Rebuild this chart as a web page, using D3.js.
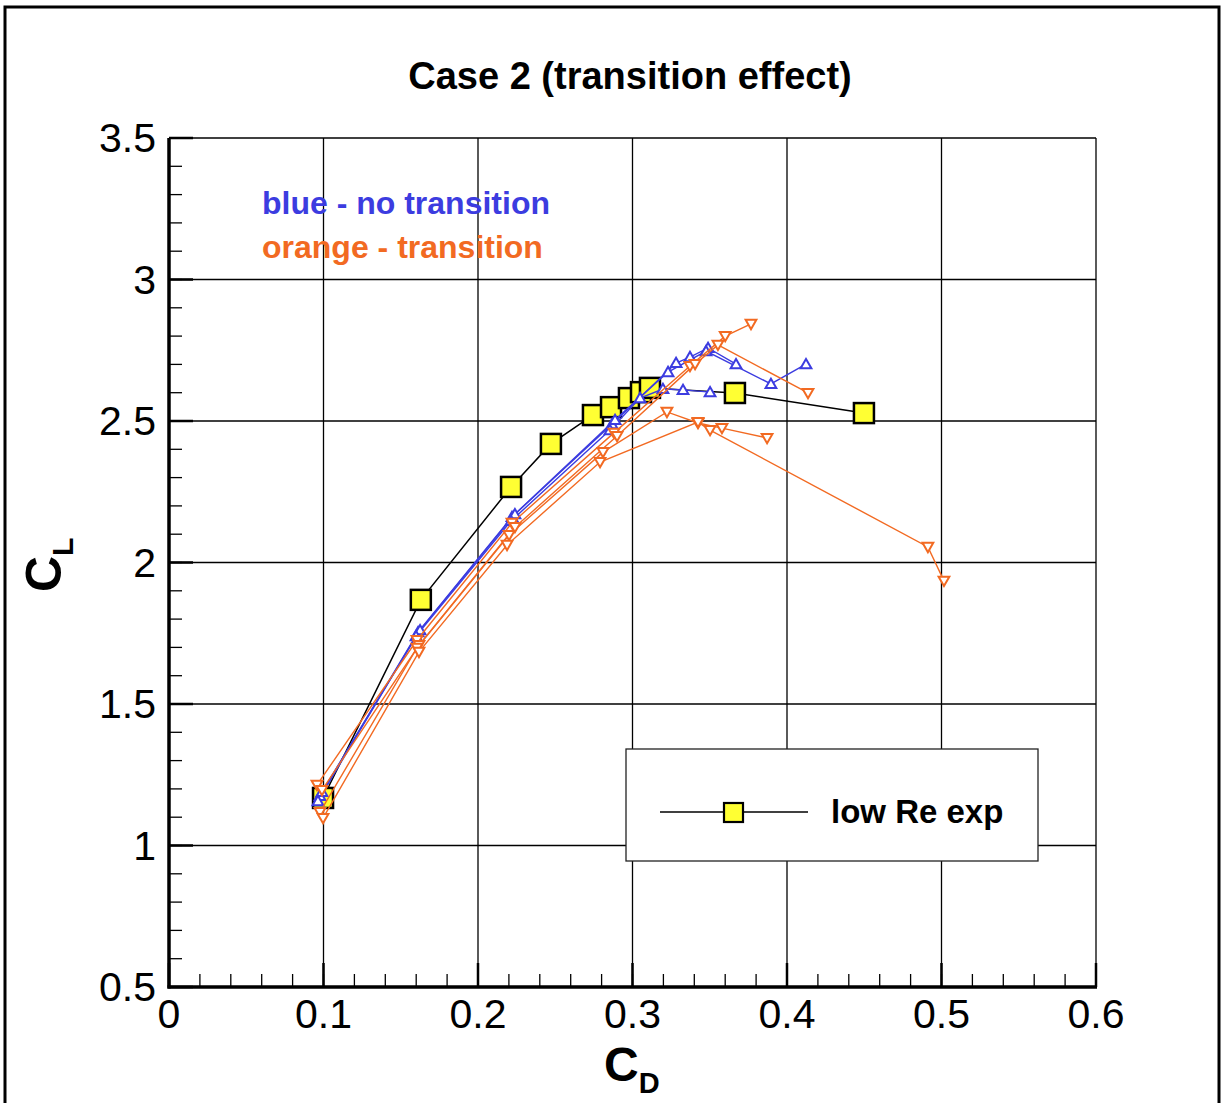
<!DOCTYPE html>
<html><head><meta charset="utf-8">
<script src="https://cdn.jsdelivr.net/npm/d3@7"></script>
<style>body{margin:0;background:#fff}svg{display:block}text{font-family:"Liberation Sans",Arial,Helvetica,sans-serif}</style>
</head><body>
<svg id="c" width="1226" height="1103"></svg>
<script>
// ---- data ----
const xTicks = [0, 0.1, 0.2, 0.3, 0.4, 0.5, 0.6];
const yTicks = [0.5, 1, 1.5, 2, 2.5, 3, 3.5];
const xTickLabels = ["0", "0.1", "0.2", "0.3", "0.4", "0.5", "0.6"];
const yTickLabels = ["0.5", "1", "1.5", "2", "2.5", "3", "3.5"];

// experiment (low Re exp): [CD, CL]
const expCD = [0.0997, 0.163, 0.2214, 0.2472, 0.2744, 0.2861, 0.2977, 0.3055, 0.3113, 0.3663, 0.4498];
const expCL = [1.168, 1.868, 2.267, 2.419, 2.521, 2.549, 2.581, 2.602, 2.617, 2.599, 2.528];

// blue - no transition
const blue1CD = [0.0977, 0.1612, 0.2220, 0.2867, 0.3282, 0.3372, 0.3489, 0.3670];
const blue1CL = [1.175, 1.754, 2.161, 2.489, 2.705, 2.726, 2.758, 2.701];
const blue2CD = [0.0990, 0.1625, 0.2239, 0.2887, 0.3230, 0.3476, 0.3896, 0.4123];
const blue2CL = [1.189, 1.761, 2.171, 2.504, 2.673, 2.747, 2.631, 2.701];
const blue3CD = [0.0964, 0.1599, 0.2214, 0.2854, 0.3049, 0.3197, 0.3327, 0.3502];
const blue3CL = [1.157, 1.740, 2.147, 2.468, 2.581, 2.613, 2.610, 2.602];

// orange - transition
const orange1CD = [0.0958, 0.1605, 0.2220, 0.2880, 0.3372, 0.3600, 0.3767];
const orange1CL = [1.214, 1.726, 2.140, 2.458, 2.694, 2.800, 2.843];
const orange2CD = [0.0990, 0.1618, 0.2239, 0.2900, 0.3405, 0.3553, 0.4136];
const orange2CL = [1.196, 1.708, 2.125, 2.447, 2.701, 2.769, 2.599];
const orange3CD = [0.0977, 0.1605, 0.2201, 0.2809, 0.3223, 0.3424, 0.3579, 0.3871];
const orange3CL = [1.118, 1.698, 2.097, 2.390, 2.532, 2.493, 2.475, 2.440];
const orange4CD = [0.0997, 0.1618, 0.2188, 0.2790, 0.3424, 0.3502, 0.4912, 0.5016];
const orange4CL = [1.097, 1.684, 2.062, 2.355, 2.496, 2.468, 2.055, 1.935];

const BLUE = "#3c3ce0", ORANGE = "#f26a22";

const zip = (a, b) => a.map((v, i) => [v, b[i]]);
const blueSeries = [zip(blue1CD, blue1CL), zip(blue2CD, blue2CL), zip(blue3CD, blue3CL)];
const orangeSeries = [zip(orange1CD, orange1CL), zip(orange2CD, orange2CL), zip(orange3CD, orange3CL), zip(orange4CD, orange4CL)];
const expSeries = zip(expCD, expCL);

// ---- drawing ----
const svg = d3.select("#c");
const L = 169, R = 1096, T = 138, B = 987;
const x = d3.scaleLinear().domain([0, 0.6]).range([L, R]);
const y = d3.scaleLinear().domain([0.5, 3.5]).range([B, T]);

svg.append("rect").attr("x", 5).attr("y", 7).attr("width", 1214).attr("height", 1110)
  .attr("fill", "#fff").attr("stroke", "#000").attr("stroke-width", 3);

// grid
const g = svg.append("g");
g.selectAll(".gx").data(xTicks).join("line")
  .attr("x1", d => x(d)).attr("x2", d => x(d)).attr("y1", T).attr("y2", B)
  .attr("stroke", "#000").attr("stroke-width", 1.3);
g.selectAll(".gy").data(yTicks).join("line")
  .attr("y1", d => y(d)).attr("y2", d => y(d)).attr("x1", L).attr("x2", R)
  .attr("stroke", "#000").attr("stroke-width", 1.3);

// minor ticks
const xMinor = d3.range(0, 0.6001, 0.02);
const yMinor = d3.range(0.5, 3.5001, 0.1);
g.selectAll(".mx").data(xMinor).join("line")
  .attr("x1", d => x(d)).attr("x2", d => x(d)).attr("y1", B).attr("y2", B - 13)
  .attr("stroke", "#000").attr("stroke-width", 1.3);
g.selectAll(".my").data(yMinor).join("line")
  .attr("y1", d => y(d)).attr("y2", d => y(d)).attr("x1", L).attr("x2", L + 13)
  .attr("stroke", "#000").attr("stroke-width", 1.3);
// major ticks (thicker)
g.selectAll(".Mx").data(xTicks).join("line")
  .attr("x1", d => x(d)).attr("x2", d => x(d)).attr("y1", B).attr("y2", B - 24)
  .attr("stroke", "#000").attr("stroke-width", 2.5);
g.selectAll(".My").data(yTicks).join("line")
  .attr("y1", d => y(d)).attr("y2", d => y(d)).attr("x1", L).attr("x2", L + 24)
  .attr("stroke", "#000").attr("stroke-width", 2.5);
// axis lines
g.append("line").attr("x1", L).attr("x2", L).attr("y1", T).attr("y2", B + 1.5).attr("stroke", "#000").attr("stroke-width", 3.5);
g.append("line").attr("x1", L - 1.5).attr("x2", R + 1).attr("y1", B).attr("y2", B).attr("stroke", "#000").attr("stroke-width", 3.5);

// tick labels
svg.selectAll(".xl").data(xTicks).join("text")
  .attr("x", d => x(d)).attr("y", 1028).attr("text-anchor", "middle")
  .attr("font-size", 41).text((d, i) => xTickLabels[i]);
svg.selectAll(".yl").data(yTicks).join("text")
  .attr("x", 156).attr("y", d => y(d) + 14).attr("text-anchor", "end")
  .attr("font-size", 41).text((d, i) => yTickLabels[i]);

// title
svg.append("text").attr("x", 630).attr("y", 89).attr("text-anchor", "middle")
  .attr("font-size", 38).attr("font-weight", "bold").text("Case 2 (transition effect)");

// axis titles
const xt = svg.append("text").attr("x", 604).attr("y", 1081).attr("font-size", 48).attr("font-weight", "bold");
xt.append("tspan").text("C");
xt.append("tspan").attr("font-size", 29).attr("dy", 12).text("D");
const yt = svg.append("text").attr("transform", "translate(61,592) rotate(-90)").attr("font-size", 50).attr("font-weight", "bold");
yt.append("tspan").text("C");
yt.append("tspan").attr("font-size", 30).attr("dy", 12).text("L");

// annotation
svg.append("text").attr("x", 262).attr("y", 214).attr("font-size", 32).attr("font-weight", "bold")
  .attr("fill", BLUE).text("blue - no transition");
svg.append("text").attr("x", 262).attr("y", 258).attr("font-size", 32).attr("font-weight", "bold")
  .attr("fill", ORANGE).text("orange - transition");

const line = d3.line().x(d => x(d[0])).y(d => y(d[1]));

// experiment
svg.append("path").datum(expSeries).attr("d", line).attr("fill", "none").attr("stroke", "#000").attr("stroke-width", 1.5);
svg.selectAll(".sq").data(expSeries).join("rect")
  .attr("x", d => x(d[0]) - 10).attr("y", d => y(d[1]) - 10).attr("width", 20).attr("height", 20)
  .attr("fill", "#ffff33").attr("stroke", "#000").attr("stroke-width", 2.5);

const tri = d3.symbol().type(d3.symbolTriangle).size(50);
function drawSeries(series, color, down) {
  series.forEach(s => {
    svg.append("path").datum(s).attr("d", line).attr("fill", "none").attr("stroke", color).attr("stroke-width", 1.4);
  });
  series.forEach(s => {
    svg.append("g").selectAll("path").data(s).join("path")
      .attr("d", tri)
      .attr("transform", d => `translate(${x(d[0])},${y(d[1]) + (down ? -1 : 1)})${down ? " rotate(180)" : ""}`)
      .attr("fill", "#fff").attr("stroke", color).attr("stroke-width", 2);
  });
}
drawSeries(blueSeries, BLUE, false);
drawSeries(orangeSeries, ORANGE, true);

// legend
svg.append("rect").attr("x", 626).attr("y", 749).attr("width", 412).attr("height", 112)
  .attr("fill", "#fff").attr("stroke", "#222").attr("stroke-width", 1.3);
svg.append("line").attr("x1", 660).attr("x2", 808).attr("y1", 812).attr("y2", 812).attr("stroke", "#000").attr("stroke-width", 1.5);
svg.append("rect").attr("x", 724).attr("y", 803).attr("width", 19).attr("height", 19)
  .attr("fill", "#ffff33").attr("stroke", "#000").attr("stroke-width", 2.2);
svg.append("text").attr("x", 831).attr("y", 823).attr("font-size", 33).attr("font-weight", "bold").text("low Re exp");
</script>
</body></html>
